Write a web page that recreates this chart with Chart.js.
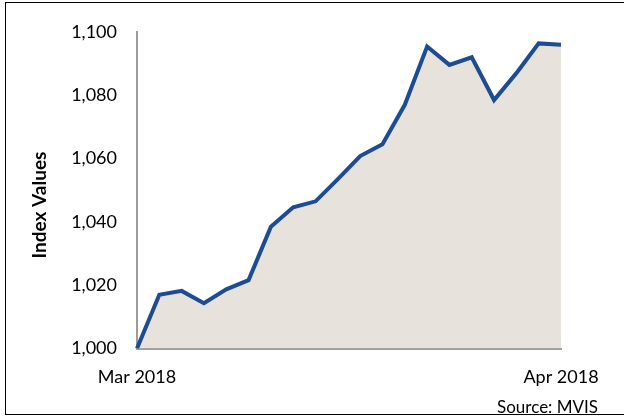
<!doctype html>
<html>
<head>
<title>Index Values</title>
<script src="https://cdn.jsdelivr.net/npm/chart.js@4.4.0/dist/chart.umd.min.js"></script>
<style>
	body { margin: 0; background: #fff; }
	#holder { position: relative; width: 624px; height: 416px; overflow: hidden; }
	#frame { position: absolute; left: 5px; top: 2px; width: 640px; height: 411px; border: 1.5px solid #000; }
	#source { position: absolute; right: 26px; top: 396px; font-family: Lato, sans-serif; font-size: 17px; color: #000; }
	canvas { position: absolute; left: 0; top: 0; }
</style>
</head>
<body>
<div id="holder">
	<div id="frame"></div>
	<canvas id="chart-area" width="624" height="416"></canvas>
	<div id="source">Source: MVIS</div>
</div>
<script>
var dates = ['Mar 2018', '', '', '', '', '', '', '', '', '', '', '', '', '', '', '', '', '', '', 'Apr 2018'];
var indexValues = [1000, 1017, 1018.2, 1014.3, 1018.7, 1021.6, 1038.5, 1044.6, 1046.5, 1053.5,
	1060.8, 1064.5, 1077, 1095.4, 1089.6, 1092, 1078.5, 1087, 1096.4, 1096];
var yTicks = [1000, 1020, 1040, 1060, 1080, 1100];
var yTitle = 'Index Values';

var font = 'Lato, sans-serif';

// axis title sits a bit below the axis middle in the original, so draw it by hand
var yTitlePlugin = {
	id: 'yTitle',
	afterDraw: function(chart) {
		var c = chart.ctx;
		c.save();
		c.translate(40, 205);
		c.rotate(-Math.PI / 2);
		c.font = 'bold 19px ' + font;
		c.fillStyle = '#000';
		c.textAlign = 'center';
		c.textBaseline = 'middle';
		c.fillText(yTitle, 0, 0);
		c.restore();
	}
};

var ctx = document.getElementById('chart-area').getContext('2d');
new Chart(ctx, {
	type: 'line',
	data: {
		labels: dates,
		datasets: [{
			data: indexValues,
			borderColor: '#1d4c93',
			borderWidth: 4,
			backgroundColor: '#e7e3dc',
			fill: 'origin',
			pointRadius: 0,
			tension: 0
		}]
	},
	options: {
		responsive: false,
		animation: false,
		layout: { padding: { left: 0, right: 63, top: 32, bottom: 0 } },
		plugins: { legend: { display: false }, tooltip: { enabled: false } },
		scales: {
			x: {
				offset: false,
				grid: { display: false, drawTicks: false },
				border: { color: '#9c9c9c', width: 2 },
				ticks: {
					autoSkip: false, maxRotation: 0, padding: 18, color: '#000',
					font: { family: font, size: 18 },
					callback: function(v, i) { return dates[i]; }
				},
				afterFit: function(s) { s.height = 67.5; }
			},
			y: {
				min: 1000, max: 1100,
				afterBuildTicks: function(s) { s.ticks = yTicks.map(function(v) { return { value: v }; }); },
				grid: { display: false, drawTicks: false },
				border: { color: '#9c9c9c', width: 2 },
				ticks: {
					padding: 20, color: '#000',
					font: { family: font, size: 18 },
					callback: function(v) { return v.toLocaleString('en-US'); }
				},
				afterFit: function(s) { s.width = 137; }
			}
		}
	},
	plugins: [yTitlePlugin]
});
</script>
</body>
</html>
